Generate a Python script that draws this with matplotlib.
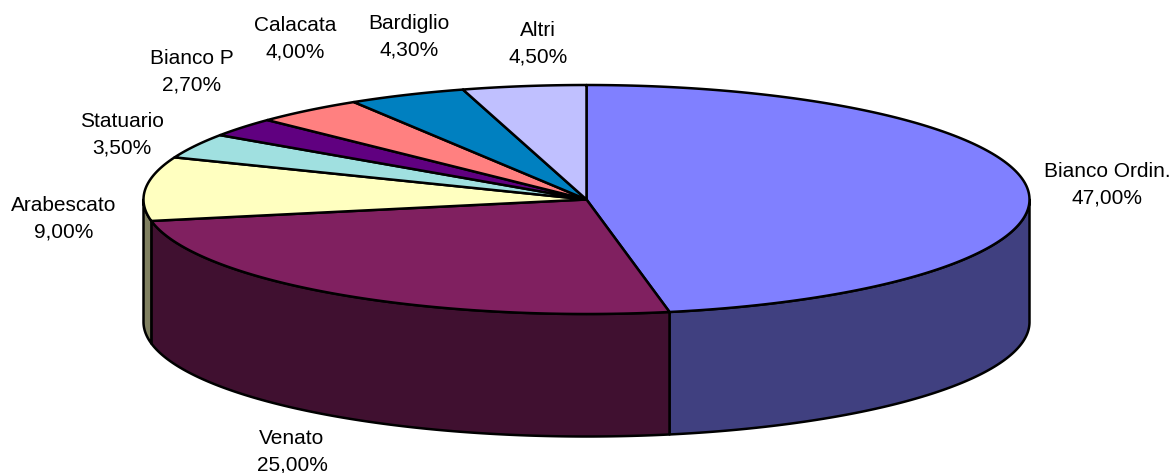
import numpy as np
import matplotlib
matplotlib.use("Agg")
import matplotlib.pyplot as plt
from matplotlib.patches import Polygon

categories = ["Bianco Ordin.", "Venato", "Arabescato", "Statuario", "Bianco P",
              "Calacata", "Bardiglio", "Altri"]
values = [47.0, 25.0, 9.0, 3.5, 2.7, 4.0, 4.3, 4.5]
top_colors = ["#8080FF", "#802060", "#FFFFC0", "#A0E0E0", "#600080", "#FF8080", "#0080C0", "#C0C0FF"]
side_colors = ["#404080", "#401030", "#808060", "#507070", "#300040", "#804040", "#004060", "#606080"]
label_pos = [(1107, 184.5), (292, 451.5), (64, 218.5), (122, 134.5), (192, 71.5), (295, 38.5), (409, 36.5), (538, 43.5)]

W, H = 1173, 473
cx, cy, rx, ry, depth = 586.5, 199.5, 443.0, 114.5, 122.5

plt.rcParams["font.family"] = ["Liberation Sans", "DejaVu Sans"]
fig = plt.figure(figsize=(W / 100, H / 100), dpi=100)
ax = fig.add_axes([0, 0, 1, 1])
ax.set_xlim(0, W)
ax.set_ylim(H, 0)
ax.axis("off")


def ell(theta, dy=0.0):
    return np.column_stack([cx + rx * np.sin(theta), cy + dy - ry * np.cos(theta)])


total = sum(values)
edges = 2 * np.pi * np.cumsum([0] + values) / total
lw = 1.8

# side walls: only the front half of the ellipse is visible
for a, b, c in zip(edges[:-1], edges[1:], side_colors):
    lo, hi = max(a, np.pi / 2), min(b, 3 * np.pi / 2)
    if hi <= lo:
        continue
    t = np.linspace(lo, hi, 200)
    pts = np.vstack([ell(t), ell(t[::-1], depth)])
    ax.add_patch(Polygon(pts, closed=True, facecolor=c, edgecolor="black", lw=lw, joinstyle="round", zorder=2))

# top slices
for a, b, c in zip(edges[:-1], edges[1:], top_colors):
    t = np.linspace(a, b, 200)
    pts = np.vstack([[cx, cy], ell(t)])
    ax.add_patch(Polygon(pts, closed=True, facecolor=c, edgecolor="black", lw=lw, joinstyle="round", zorder=3))

for name, v, (x, y) in zip(categories, values, label_pos):
    txt = name + "\n" + f"{v:.2f}".replace(".", ",") + "%"
    ax.text(x, y, txt, ha="center", va="center", fontsize=15, linespacing=1.47,
            color="black", zorder=5)

fig.savefig("out.png", dpi=100, facecolor="white")
